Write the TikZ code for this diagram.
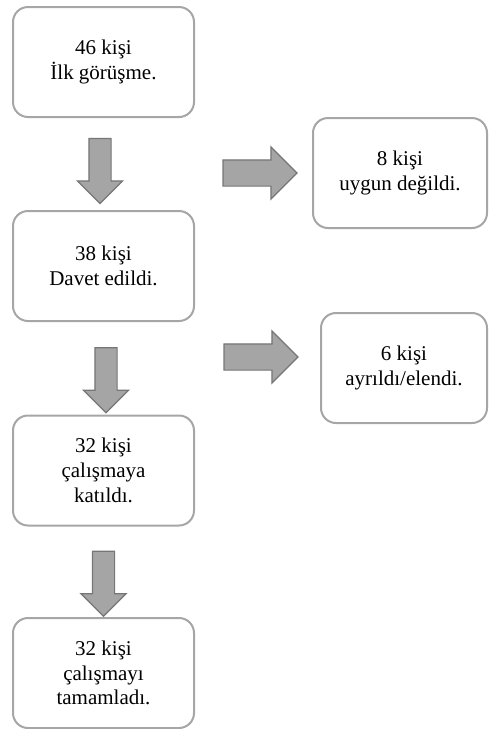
\documentclass[tikz,border=0pt]{standalone}
\usepackage{fontspec}
\setmainfont{Liberation Serif}
\usetikzlibrary{calc,shapes.arrows}
\definecolor{boxline}{RGB}{166,166,166}
\definecolor{arrowfill}{RGB}{165,165,165}
\definecolor{arrowline}{RGB}{118,118,118}

\begin{document}
\begin{tikzpicture}[x=0.5pt,y=-0.5pt,
	stage/.style={draw=boxline,line width=1pt,rounded corners=7.5pt,align=center,
		minimum width=90.5pt,minimum height=55pt,font=\fontsize{10.5}{12.4}\selectfont},
	downarrow/.style={single arrow,draw=arrowline,fill=arrowfill,line width=0.6pt,rotate=-90,
		inner sep=5.25pt,single arrow head extend=5.75pt,minimum height=32.5pt},
	sidearrow/.style={single arrow,draw=arrowline,fill=arrowfill,line width=0.6pt,
		inner sep=6.25pt,single arrow head extend=6.5pt,minimum height=37pt}]
			%%%%% BOXES %%%%%
			\def\xl{103.5}
			\useasboundingbox (0,0) rectangle (488,729);
			
			\node[stage] (first) at (\xl,62) {46 kişi\\İlk görüşme.};
			\node[stage,minimum width=87pt] (unfit) at (400,173) {8 kişi\\uygun değildi.};
			\node[stage] (invited) at (\xl,266) {38 kişi\\Davet edildi.};
			\node[stage,minimum width=83pt] (dropped) at (404,368) {6 kişi\\ayrıldı/elendi.};
			\node[stage] (joined) at (\xl,470.5) {32 kişi\\çalışmaya\\katıldı.};
			\node[stage] (done) at (\xl,673) {32 kişi\\çalışmayı\\tamamladı.};
			
			%%%%% ARROWS %%%%%
			\node[downarrow,xshift=0.75pt,yshift=-1.75pt] (down1) at ($(first.south)!.5!(invited.north)$) {};
			\node[downarrow,xshift=3.25pt,yshift=1.25pt] (down2) at ($(invited.south)!.5!(joined.north)$) {};
			\node[downarrow,xshift=3.25pt] (down3) at ($(joined.south)!.5!(done.north)$) {};
			\node[sidearrow] (side1) at ($(first.east |- unfit)!.5!(unfit.west)$) {};
			\node[sidearrow,xshift=-1.5pt,yshift=5.5pt] (side2) at ($(invited.east |- dropped)!.5!(dropped.west)$) {};
\end{tikzpicture}
\end{document}
